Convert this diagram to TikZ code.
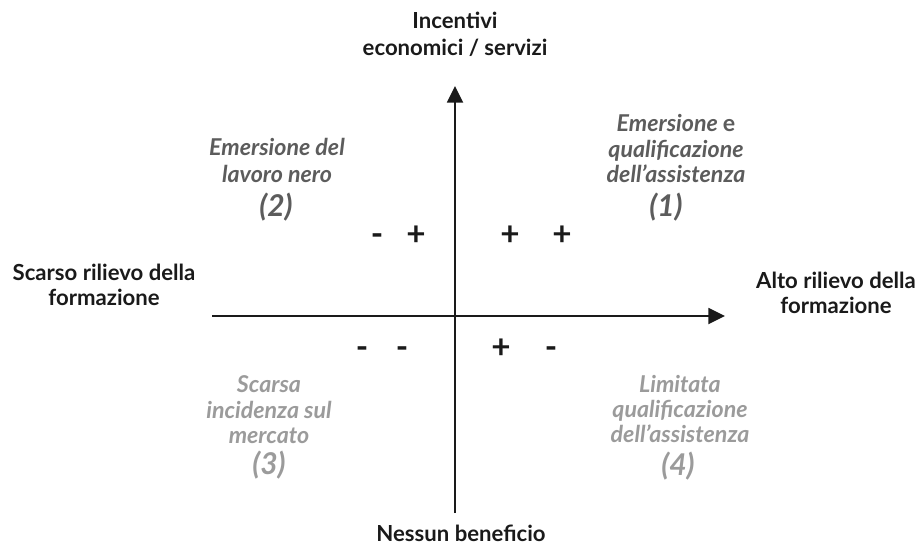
\documentclass[tikz,border=0pt]{standalone}
\usepackage{fontspec}
\setmainfont{Lato}
\usetikzlibrary{arrows.meta}
\definecolor{darkq}{HTML}{5C5C5C}
\definecolor{lightq}{HTML}{9B9B9B}
\definecolor{ink}{HTML}{1A1A1A}
\begin{document}
\begin{tikzpicture}[x=0.75pt,y=-0.75pt,
  axislabel/.style={font=\fontsize{16.6}{20}\selectfont\bfseries, text=ink, inner sep=0pt, anchor=base},
  quadlabel/.style={font=\fontsize{17.4}{20}\selectfont\bfseries\itshape, inner sep=0pt, anchor=base},
  quadnum/.style={font=\fontsize{22.5}{26}\selectfont\bfseries\itshape, inner sep=0pt, anchor=base},
  sign/.style={font=\fontsize{25}{28}\selectfont\bfseries, text=ink, inner sep=0pt, anchor=base},
  axisline/.style={draw=ink, line width=1.4pt, -{Triangle[length=12.5pt,width=12pt]}}]
\useasboundingbox (0,0) rectangle (920,546);
% axes
\coordinate (ybot) at (455,513);
\coordinate (ytop) at (455,86);
\coordinate (xleft) at (212,316);
\coordinate (xright) at (725,316);
\draw[axisline] (ybot) -- (ytop);
\draw[axisline] (xleft) -- (xright);
% axis labels
\node[axislabel] (top1) at (455,28) {Incentivi};
\node[axislabel] (top2) at (455,55) {economici / servizi};
\node[axislabel] (bot1) at (461,541) {Nessun beneficio};
\node[axislabel] (left1) at (104,280) {Scarso rilievo della};
\node[axislabel] (left2) at (104,305) {formazione};
\node[axislabel] (right1) at (836,288) {Alto rilievo della};
\node[axislabel] (right2) at (836,313) {formazione};
% quadrant 1
\node[quadlabel, text=darkq] (q1a) at (676,131) {Emersione \upshape e};
\node[quadlabel, text=darkq] (q1b) at (676,157) {qualificazione};
\node[quadlabel, text=darkq] (q1c) at (676,182) {dell’assistenza};
\node[quadnum, text=darkq] (q1n) at (666,216) {(1)};
% quadrant 2
\node[quadlabel, text=darkq] (q2a) at (277,155) {Emersione del};
\node[quadlabel, text=darkq] (q2b) at (277,182) {lavoro nero};
\node[quadnum, text=darkq] (q2n) at (276,216) {(2)};
% quadrant 3
\node[quadlabel, text=lightq] (q3a) at (269,392) {Scarsa};
\node[quadlabel, text=lightq] (q3b) at (269,418) {incidenza sul};
\node[quadlabel, text=lightq] (q3c) at (269,443) {mercato};
\node[quadnum, text=lightq] (q3n) at (269,474) {(3)};
% quadrant 4
\node[quadlabel, text=lightq] (q4a) at (680,392) {Limitata};
\node[quadlabel, text=lightq] (q4b) at (680,417) {qualificazione};
\node[quadlabel, text=lightq] (q4c) at (680,442) {dell’assistenza};
\node[quadnum, text=lightq] (q4n) at (678,475) {(4)};
% signs
\node[sign] (s1) at (377,245) {-};
\node[sign] (s2) at (416,245) {+};
\node[sign] (s3) at (510,245) {+};
\node[sign] (s4) at (562,245) {+};
\node[sign] (s5) at (362,358) {-};
\node[sign] (s6) at (402,358) {-};
\node[sign] (s7) at (501,358) {+};
\node[sign] (s8) at (551,358) {-};
\end{tikzpicture}
\end{document}
